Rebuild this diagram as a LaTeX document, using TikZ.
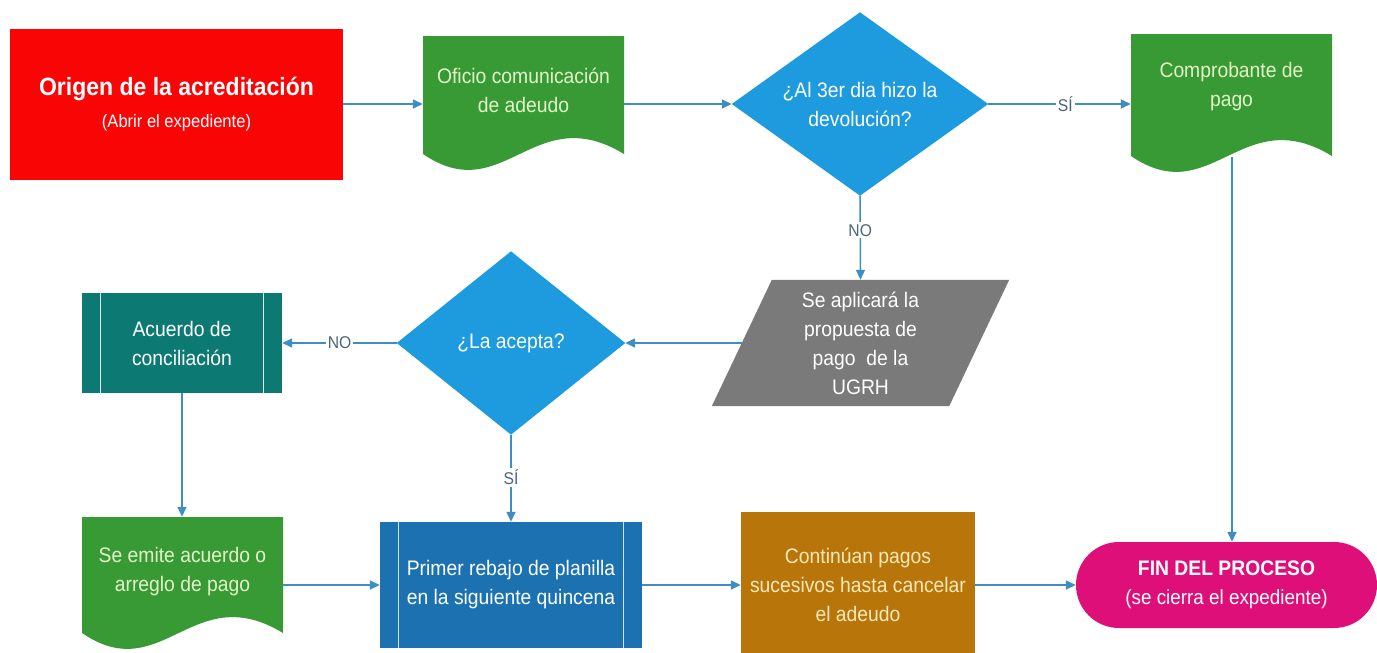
\documentclass[tikz,border=0pt]{standalone}
\usepackage{fontspec}
\setmainfont{Liberation Sans}[FakeStretch=0.92]
\usetikzlibrary{arrows.meta,calc,backgrounds}
\definecolor{redc}{RGB}{250,5,5}
\definecolor{greenc}{RGB}{56,154,52}
\definecolor{diamc}{RGB}{30,155,222}
\definecolor{grayc}{RGB}{122,122,122}
\definecolor{tealc}{RGB}{12,122,115}
\definecolor{bluec}{RGB}{28,114,176}
\definecolor{brownc}{RGB}{184,118,10}
\definecolor{magc}{RGB}{222,15,120}
\definecolor{lineblue}{RGB}{62,142,196}
\definecolor{lblcol}{RGB}{75,100,125}
\definecolor{greentxt}{RGB}{226,245,200}
\definecolor{browntxt}{RGB}{250,232,185}
\newcommand\mainsz{\fontsize{21}{29}\selectfont}
\newcommand\docshape[5]{\fill[#5] (#1,#2) -- (#3,#2) -- (#3,#4) .. controls ({#1+0.55*(#3-#1)},{#4-55}) and ({#1+0.4*(#3-#1)},{#4+55}) .. (#1,#4) -- cycle;}
\begin{document}
\begin{tikzpicture}[x=1pt,y=-1pt,
  anch/.style={rectangle, inner sep=0pt, align=center, text=white, font=\mainsz},
  txt/.style={inner sep=0pt, align=center, font=\mainsz},
  conn/.style={draw=lineblue, line width=1.5pt, -{Triangle[length=10pt,width=9pt]}},
  lbl/.style={fill=white, inner sep=2pt, text=lblcol, font=\fontsize{17}{20}\selectfont},
  pline/.style={line width=1.2pt}
]
\useasboundingbox (0,0) rectangle (1377,653);

% ---- Origen
\node[anch, fill=redc, minimum width=333, minimum height=151] (origen) at (176.5,104)
  {{\fontsize{25}{30}\selectfont\bfseries Origen de la acreditación}\\[3pt]
   {\fontsize{18}{22}\selectfont (Abrir el expediente)}};

% ---- Oficio (document)
\docshape{423}{36}{624}{154}{greenc}
\node[anch, minimum width=201, minimum height=136] (doc1) at (523.5,104) {};
\node[txt, text=greentxt] (doc1t) at (523.5,90) {Oficio comunicación\\de adeudo};

% ---- Diamond 1
\node[anch, minimum width=256, minimum height=183] (d1) at (860,104) {¿Al 3er dia hizo la\\devolución?};
\begin{scope}[on background layer]
  \fill[diamc] (d1.north) -- (d1.east) -- (d1.south) -- (d1.west) -- cycle;
\end{scope}

% ---- Comprobante (document)
\docshape{1131}{34}{1332}{156}{greenc}
\node[anch, minimum width=201, minimum height=140] (doc2) at (1231.5,104) {};
\node[txt, text=greentxt] (doc2t) at (1231.5,87) {Comprobante de\\pago};
\coordinate (doc2b) at (1232,157);

% ---- Parallelogram
\node[anch, minimum width=237, minimum height=126] (para) at (860.5,343)
  {Se aplicará la\\propuesta de\\pago\ \ de la\\UGRH};
\begin{scope}[on background layer]
  \fill[grayc] ([xshift=30pt]para.north west) -- ([xshift=30pt]para.north east)
    -- ([xshift=-30pt]para.south east) -- ([xshift=-30pt]para.south west) -- cycle;
\end{scope}

% ---- Diamond 2
\node[anch, minimum width=228, minimum height=183] (d2) at (511,343) {¿La acepta?};
\begin{scope}[on background layer]
  \fill[diamc] (d2.north) -- (d2.east) -- (d2.south) -- (d2.west) -- cycle;
\end{scope}

% ---- Acuerdo de conciliacion (predefined process)
\node[anch, fill=tealc, minimum width=200, minimum height=100] (teal) at (182,343)
  {Acuerdo de\\conciliación};
\draw[pline, white!85!tealc] ([xshift=19pt]teal.north west) -- ([xshift=19pt]teal.south west);
\draw[pline, white!85!tealc] ([xshift=-19pt]teal.north east) -- ([xshift=-19pt]teal.south east);

% ---- Se emite acuerdo (document)
\docshape{82}{517}{283}{633}{greenc}
\node[anch, minimum width=201, minimum height=136] (doc3) at (182,585) {};
\node[txt, text=greentxt] (doc3t) at (182.5,572) {Se emite acuerdo o\\arreglo de pago};

% ---- Primer rebajo (predefined process)
\node[anch, fill=bluec, minimum width=262, minimum height=126] (blue) at (511,585)
  {Primer rebajo de planilla\\en la siguiente quincena};
\draw[pline, white!80!bluec] ([xshift=19pt]blue.north west) -- ([xshift=19pt]blue.south west);
\draw[pline, white!80!bluec] ([xshift=-19pt]blue.north east) -- ([xshift=-19pt]blue.south east);

% ---- Continuan pagos
\node[anch, fill=brownc, text=browntxt, minimum width=234, minimum height=146] (brown) at (858,585)
  {Continúan pagos\\sucesivos hasta cancelar\\el adeudo};

% ---- FIN
\node[anch, fill=magc, rounded corners=43pt, minimum width=301, minimum height=86] (fin) at (1226.5,585)
  {{\fontsize{21}{26}\selectfont\bfseries FIN DEL PROCESO}\\
   {\fontsize{20.5}{26}\selectfont (se cierra el expediente)}};

% ---- Connectors
\draw[conn] (origen.east) -- (doc1.west);
\draw[conn] (doc1.east) -- (d1.west);
\draw[conn] (d1.east) -- node[lbl, pos=0.54] {SÍ} (doc2.west);
\draw[conn] (doc2b) -- (doc2b |- fin.north);
\draw[conn] (d1.south) -- node[lbl, pos=0.41] {NO} (para.north);
\draw[conn] (para.west) -- (d2.east);
\draw[conn] (d2.west) -- node[lbl, pos=0.5] {NO} (teal.east);
\draw[conn] (teal.south) -- (doc3.north);
\draw[conn] (d2.south) -- node[lbl, pos=0.49] {SÍ} (blue.north);
\draw[conn] (doc3.east) -- (blue.west);
\draw[conn] (blue.east) -- (brown.west);
\draw[conn] (brown.east) -- (fin.west);
\end{tikzpicture}
\end{document}
